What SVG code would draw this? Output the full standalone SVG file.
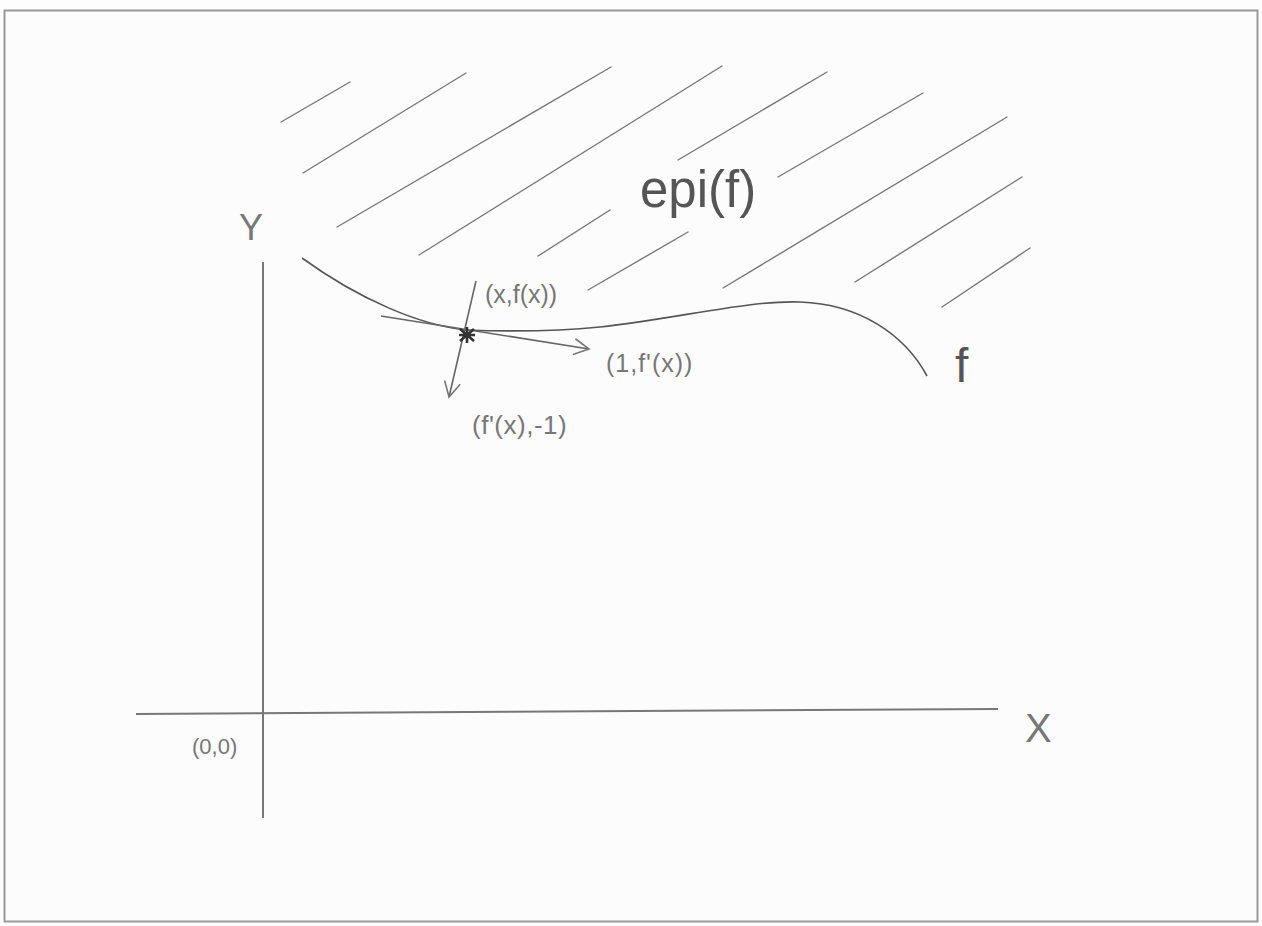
<svg xmlns="http://www.w3.org/2000/svg" width="1262" height="926" viewBox="0 0 1262 926">
  <style>
    .hatch { stroke: #777; stroke-width: 1.4; fill: none; stroke-linecap: round; }
    .curve { stroke: #555; stroke-width: 1.6; fill: none; }
    .axis { stroke: #777; stroke-width: 2; fill: none; }
    .vec { stroke: #666; stroke-width: 1.6; fill: none; }
    .lbl { font-family: "Liberation Sans", Arial, sans-serif; fill: #777; }
    .thin { font-family: "Liberation Sans", Arial, sans-serif; fill: none; stroke: #888; stroke-width: 0.4; }
    .big { font-family: "Liberation Sans", Arial, sans-serif; fill: #555; }
  </style>
  <defs>
    <marker id="chev" markerUnits="userSpaceOnUse" markerWidth="20" markerHeight="20" refX="16" refY="9" orient="auto" overflow="visible">
      <path d="M1,1 L16,9 L1,17" fill="none" stroke="#777" stroke-width="1.6"/>
    </marker>
  </defs>
  <rect x="0" y="0" width="1262" height="926" fill="#fdfdfd"/>
  <rect id="frame" x="4.5" y="10.5" width="1253" height="911" fill="#fcfcfc" stroke="#999" stroke-width="2"/>

  <g id="hatching">
    <line class="hatch" x1="281" y1="122" x2="350" y2="82"/>
    <line class="hatch" x1="303" y1="173" x2="466" y2="73"/>
    <line class="hatch" x1="337" y1="227" x2="611" y2="67"/>
    <line class="hatch" x1="419" y1="255" x2="722" y2="66"/>
    <line class="hatch" x1="538" y1="256" x2="610" y2="210"/>
    <line class="hatch" x1="588" y1="290" x2="688" y2="232"/>
    <line class="hatch" x1="678" y1="160" x2="827" y2="72"/>
    <line class="hatch" x1="778" y1="177" x2="923" y2="93"/>
    <line class="hatch" x1="723" y1="288" x2="1007" y2="117"/>
    <line class="hatch" x1="855" y1="282" x2="1022" y2="177"/>
    <line class="hatch" x1="942" y1="307" x2="1030" y2="248"/>
  </g>

  <g id="axes">
    <line class="axis" x1="263" y1="262" x2="263" y2="818"/>
    <line class="axis" x1="136" y1="714" x2="998" y2="709"/>
  </g>

  <g id="curve-f">
    <path class="curve" d="M302,258 C360,300 420,325 466,330 C520,332 560,331 600,327 C680,318 750,300 800,302 C860,304 905,335 927,376"/>
  </g>

  <g id="connectors">
    <line class="vec" x1="381" y1="316" x2="589" y2="349" marker-end="url(#chev)"/>
    <line class="vec" x1="476" y1="281" x2="449" y2="397" marker-end="url(#chev)"/>
  </g>

  <g id="point">
    <path d="M460,329 L474,341 M474,329 L460,341 M467,327 L467,343 M459,335 L475,335" stroke="#333" stroke-width="2.6" fill="none"/>
  </g>

  <g id="labels">
    <text class="big" x="640" y="207" font-size="51">epi(f)</text>
    <text class="big" x="955" y="382" font-size="48">f</text>
    <text class="lbl" x="239" y="240" font-size="36" fill="#8a8a8a">Y</text>
    <text class="lbl" x="1025" y="742" font-size="40" fill="#8a8a8a">X</text>
    <text class="lbl" x="192" y="754" font-size="22">(0,0)</text>
    <text class="lbl" x="485" y="303" font-size="25">(x,f(x))</text>
    <text class="lbl" x="606" y="372" font-size="25" letter-spacing="1">(1,f'(x))</text>
    <text class="lbl" x="472" y="434" font-size="26" letter-spacing="0.5">(f'(x),-1)</text>
  </g>
</svg>
